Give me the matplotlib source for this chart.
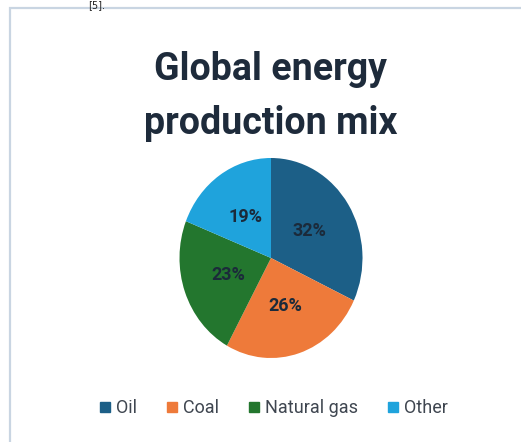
import matplotlib.pyplot as plt
from matplotlib.patches import Rectangle

# Data
sources = ['Oil', 'Coal', 'Natural gas', 'Other']
shares = [32, 26, 23, 19]
colors = ['#1c5f87', '#ee7a3a', '#23762e', '#1fa3dc']

W, H = 521, 442
fig = plt.figure(figsize=(W / 100, H / 100), dpi=100)
fig.patch.set_facecolor('white')

# light frame of the chart box (left and top edges visible)
fig.add_artist(Rectangle((10 / W, -0.1), 1.2, (H - 8) / H + 0.1,
                         transform=fig.transFigure, fill=False,
                         edgecolor='#c9d5e2', linewidth=1.6))

# stray caption text from the page above
fig.text(88 / W, 1.0, '[5].', fontsize=7, color='#222222', va='top')

title_font = dict(ha='center', va='baseline', fontsize=27, fontweight='bold',
                  color='#1e2b3b', family='Roboto')
fig.text(271 / W, (H - 80) / H, 'Global energy', **title_font)
fig.text(271 / W, (H - 134) / H, 'production mix', **title_font)

# pie is slightly stretched vertically in the reference
cx, cy, rx, ry = 271, 258, 91.5, 100
ax = fig.add_axes([(cx - rx) / W, (H - cy - ry) / H, 2 * rx / W, 2 * ry / H])
wedges, texts, autotexts = ax.pie(
    shares, colors=colors, startangle=90, counterclock=False,
    autopct='%d%%', pctdistance=0.5,
    textprops=dict(fontsize=13, fontweight='bold', color='#1b2a3a', family='Roboto'))
ax.set_aspect('auto')
ax.set_xlim(-1, 1)
ax.set_ylim(-1, 1)

# legend
handles = [plt.Line2D([], [], marker='s', linestyle='none', markersize=7.5,
                      markerfacecolor=c, markeredgecolor=c) for c in colors]
fig.legend(handles, sources, loc='center', bbox_to_anchor=(273 / W, (H - 408) / H),
           ncol=4, frameon=False, handlelength=0.7, handletextpad=0.25,
           columnspacing=1.6, prop=dict(family='Roboto', size=13),
           labelcolor='#3f4650')

fig.savefig('out.png', dpi=100)
